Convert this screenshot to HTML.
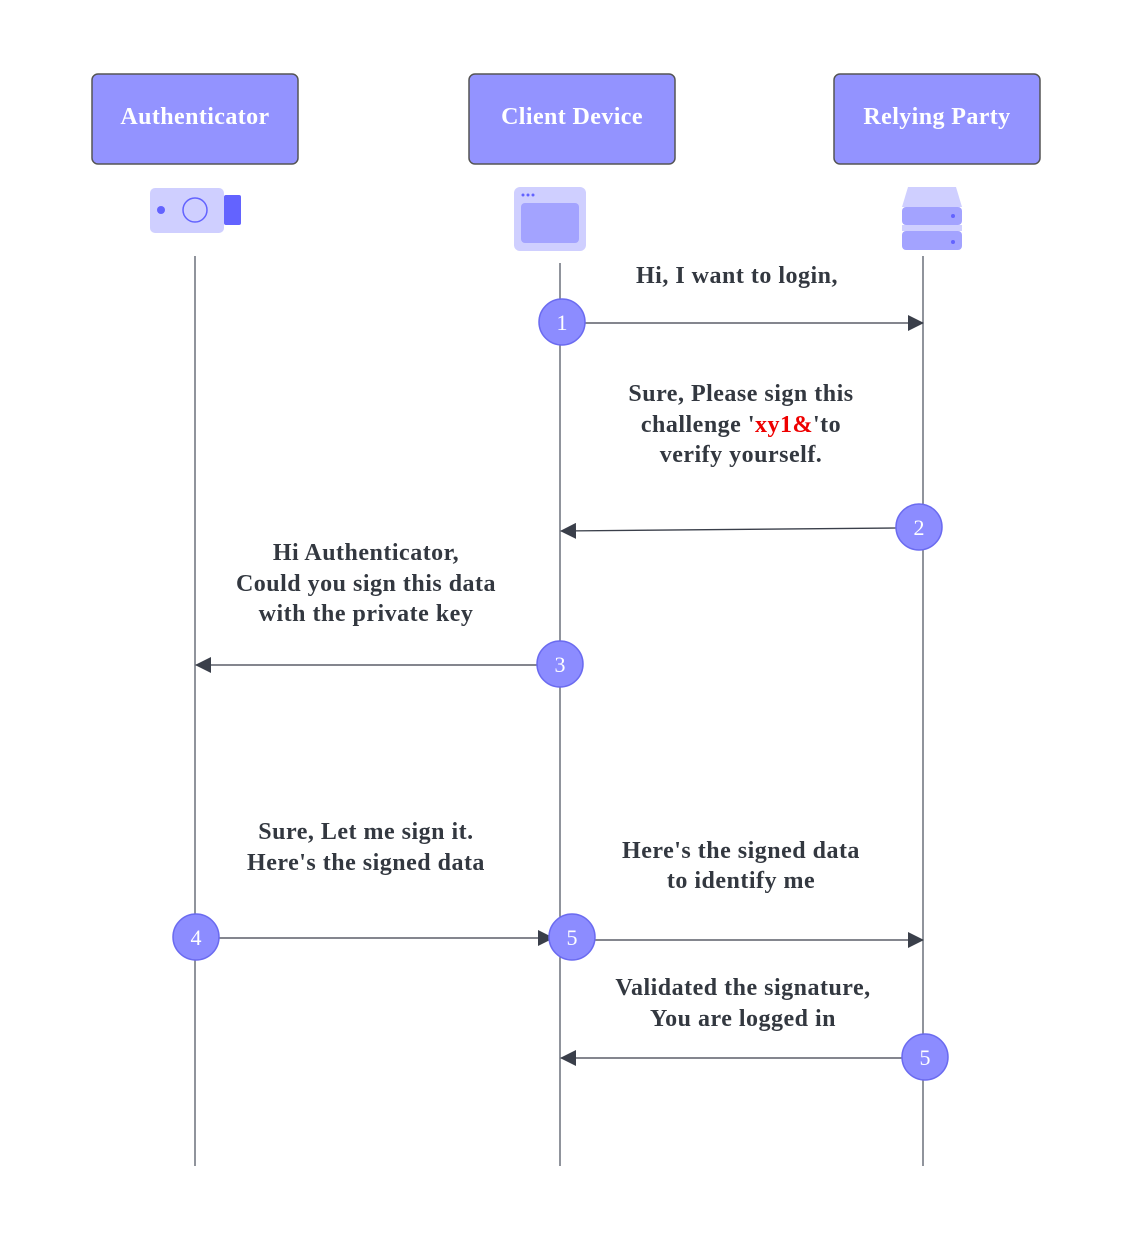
<!DOCTYPE html>
<html><head><meta charset="utf-8"><style>body{margin:0;background:#fff}svg{display:block}</style></head><body>
<svg width="1136" height="1244" viewBox="0 0 1136 1244" xmlns="http://www.w3.org/2000/svg" font-family="Liberation Serif, serif" font-weight="bold">
<defs><marker id="a" markerWidth="16" markerHeight="16" refX="15" refY="8" orient="auto" markerUnits="userSpaceOnUse"><path d="M0,0 L16,8 L0,16 Z" fill="#3a3f4a"/></marker></defs>
<g fill="#9393ff" stroke="#555" stroke-width="1.5">
<rect x="92" y="74" width="206" height="90" rx="6"/>
<rect x="469" y="74" width="206" height="90" rx="6"/>
<rect x="834" y="74" width="206" height="90" rx="6"/>
</g>
<g fill="#fff" font-size="24" text-anchor="middle" letter-spacing="0.4">
<text x="195" y="124">Authenticator</text>
<text x="572" y="124">Client Device</text>
<text x="937" y="124">Relying Party</text>
</g>
<rect x="150" y="188" width="74" height="45" rx="5" fill="#cfcfff"/>
<rect x="224" y="195" width="17" height="30" rx="2" fill="#6363ff"/>
<circle cx="161" cy="210" r="4" fill="#6363ff"/>
<circle cx="195" cy="210" r="12" fill="none" stroke="#6363ff" stroke-width="1.5"/>
<rect x="514" y="187" width="72" height="64" rx="6" fill="#cfcfff"/>
<rect x="521" y="203" width="58" height="40" rx="4" fill="#a3a3ff"/>
<g fill="#6363ff"><circle cx="523" cy="195" r="1.5"/><circle cx="528" cy="195" r="1.5"/><circle cx="533" cy="195" r="1.5"/></g>
<path d="M908,187 H956 L962,207 H902 Z" fill="#cfcfff"/>
<rect x="902" y="207" width="60" height="18" rx="4" fill="#a3a3ff"/>
<rect x="902" y="231" width="60" height="19" rx="4" fill="#a3a3ff"/>
<rect x="902" y="225" width="60" height="6" fill="#cfcfff"/>
<circle cx="953" cy="216" r="2" fill="#6363ff"/><circle cx="953" cy="242" r="2" fill="#6363ff"/>
<g stroke="#555a66" stroke-width="1.3">
<line x1="195" y1="256" x2="195" y2="1166"/>
<line x1="560" y1="263" x2="560" y2="1166"/>
<line x1="923" y1="256" x2="923" y2="1166"/>
</g>
<g stroke="#3a3f4a" stroke-width="1.3" marker-end="url(#a)">
<line x1="585" y1="323" x2="923" y2="323"/>
<line x1="896" y1="528" x2="561" y2="531"/>
<line x1="537" y1="665" x2="196" y2="665"/>
<line x1="219" y1="938" x2="553" y2="938"/>
<line x1="595" y1="940" x2="923" y2="940"/>
<line x1="902" y1="1058" x2="561" y2="1058"/>
</g>
<g fill="#8c8cff" stroke="#6b6bf0" stroke-width="1.5">
<circle cx="562" cy="322" r="23"/><circle cx="919" cy="527" r="23"/><circle cx="560" cy="664" r="23"/>
<circle cx="196" cy="937" r="23"/><circle cx="572" cy="937" r="23"/><circle cx="925" cy="1057" r="23"/>
</g>
<g fill="#fff" font-weight="normal" font-size="22" text-anchor="middle">
<text x="562" y="330">1</text><text x="919" y="535">2</text><text x="560" y="672">3</text>
<text x="196" y="945">4</text><text x="572" y="945">5</text><text x="925" y="1065">5</text>
</g>
<g fill="#333840" font-size="24" text-anchor="middle" letter-spacing="0.5">
<text x="737" y="283">Hi, I want to login,</text>
<text x="741" y="401">Sure, Please sign this</text>
<text x="741" y="432">challenge '<tspan fill="#e00">xy1&amp;</tspan>'to</text>
<text x="741" y="462">verify yourself.</text>
<text x="366" y="560">Hi Authenticator,</text>
<text x="366" y="591">Could you sign this data</text>
<text x="366" y="621">with the private key</text>
<text x="366" y="839">Sure, Let me sign it.</text>
<text x="366" y="870">Here's the signed data</text>
<text x="741" y="858">Here's the signed data</text>
<text x="741" y="888">to identify me</text>
<text x="743" y="995">Validated the signature,</text>
<text x="743" y="1026">You are logged in</text>
</g>
</svg>
</body></html>
